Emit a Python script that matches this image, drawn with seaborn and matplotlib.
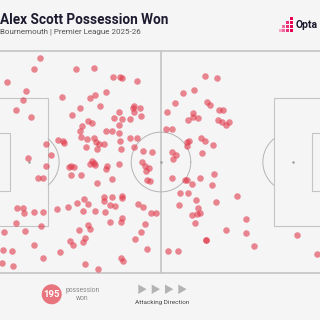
import numpy as np
import pandas as pd
import matplotlib
matplotlib.use("Agg")
import matplotlib.pyplot as plt
from matplotlib.patches import Rectangle, Polygon, Circle
import seaborn as sns

# ---- data (Opta pitch coordinates, 0-100) ----
x_vals = [14.6, 12.9, 25.1, 30.4, 5.0, 10.4, 9.7, 21.1, 33.8, 30.6, 29.2, 32.1, 7.5, 12.0, 24.1,
          26.4, 28.7, 29.8, 26.8, 26.2, 33.9, 26.5, 28.3, 30.3, 31.1, 32.0, 33.2, 28.2, 31.2, 19.9,
          21.3, 21.6, 16.3, 17.8, 11.2, 29.7, 29.3, 30.3, 30.7, 34.3, 36.0, 37.9, 38.7, 42.9, 42.2,
          41.8, 43.9, 37.8, 42.2, 44.2, 36.3, 38.6, 40.8, 37.7, 35.7, 37.8, 40.9, 43.1, 37.9, 42.1,
          38.2, 44.8, 47.4, 44.5, 37.7, 63.0, 66.5, 56.4, 59.6, 54.0, 63.5, 64.3, 51.8, 59.4, 57.8,
          59.3, 60.7, 67.0, 68.0, 66.7, 67.8, 69.8, 69.1, 51.5, 53.2, 57.5, 58.3, 57.5, 61.6, 62.9,
          65.1, 62.1, 53.1, 54.3, 53.4, 16.4, 23.0, 23.8, 24.5, 33.9, 14.0, 15.4, 23.8, 26.5, 31.2,
          27.5, 25.5, 28.7, 33.3, 33.2, 7.9, 9.6, 10.0, 13.0, 15.6, 19.6, 22.7, 27.3, 30.6, 33.5,
          7.5, 14.9, 10.2, 4.0, 28.7, 29.3, 26.1, 23.4, 24.4, 27.9, 27.3, 12.9, 20.6, 3.8, 6.3,
          15.6, 3.4, 6.6, 27.9, 31.5, 45.4, 46.5, 45.7, 45.8, 46.9, 35.8, 35.8, 38.5, 38.5, 35.2,
          36.6, 43.3, 44.6, 47.0, 48.6, 35.0, 38.5, 38.3, 45.4, 44.2, 42.5, 45.8, 38.2, 39.0, 53.3,
          57.0, 57.7, 59.0, 61.3, 65.5, 64.9, 55.7, 57.9, 60.2, 66.0, 72.1, 55.2, 60.8, 59.0, 60.6,
          61.4, 59.9, 74.9, 68.9, 74.9, 63.2, 63.2, 77.3, 89.9, 95.5, 52.0, 55.1]
y_vals = [97.0, 91.8, 92.0, 92.5, 86.2, 82.0, 78.1, 79.3, 81.5, 80.1, 78.7, 75.1, 73.2, 70.3, 71.2,
          74.2, 68.3, 67.5, 66.1, 63.9, 64.1, 61.4, 60.2, 60.7, 59.2, 58.1, 58.0, 56.9, 55.9, 59.7,
          59.5, 58.6, 58.0, 53.3, 51.9, 50.4, 49.2, 49.4, 48.7, 48.4, 88.4, 88.4, 87.8, 86.5, 75.4,
          74.3, 74.5, 72.5, 72.3, 70.7, 69.9, 69.4, 69.4, 66.7, 64.0, 63.2, 60.7, 61.0, 59.5, 56.6,
          55.9, 55.1, 54.3, 50.0, 49.0, 88.9, 88.0, 81.1, 82.4, 76.7, 76.9, 75.9, 72.4, 72.2, 68.8,
          70.1, 70.0, 73.6, 73.6, 68.8, 68.0, 67.9, 66.6, 64.8, 65.0, 59.1, 59.4, 57.2, 61.0, 59.6,
          57.7, 54.2, 54.3, 53.0, 51.4, 48.3, 47.9, 48.0, 47.9, 46.7, 42.8, 42.8, 44.0, 44.3, 40.7,
          33.3, 31.4, 30.9, 34.2, 32.3, 29.4, 29.3, 26.9, 27.6, 27.5, 28.7, 29.9, 28.1, 27.8, 27.5,
          22.4, 21.0, 19.1, 18.5, 21.6, 20.0, 19.5, 14.4, 12.6, 15.6, 13.8, 12.6, 9.6, 10.4, 9.9,
          6.9, 4.6, 3.0, 4.2, 1.9, 48.3, 47.2, 45.8, 41.9, 41.4, 42.2, 34.3, 34.8, 33.8, 30.5,
          30.1, 30.9, 29.7, 27.2, 27.0, 23.1, 24.6, 22.9, 22.2, 18.5, 15.5, 10.6, 6.9, 5.5, 42.8,
          42.1, 41.7, 40.0, 42.8, 44.6, 39.8, 36.2, 36.2, 32.9, 32.0, 34.7, 30.8, 29.5, 26.3, 26.4,
          26.9, 22.5, 24.2, 19.4, 18.2, 14.8, 14.8, 12.2, 17.0, 8.7, 10.0, 9.9]

title = "Alex Scott Possession Won"
subtitle = "Bournemouth | Premier League 2025-26"
total_label = "195"
stat_label = "possession\nwon"
direction_label = "Attacking Direction"

df = pd.DataFrame({"x": x_vals, "y": y_vals})

BG = "#f5f5f5"
LINE = "#c4c4c4"
DOT = "#e0394a"

sns.set_theme(style="white")
plt.rcParams["font.family"] = ["Roboto", "DejaVu Sans"]

W = H = 320
fig = plt.figure(figsize=(3.2, 3.2), dpi=100, facecolor=BG)

# pitch axes in pixel placement: x -10..332, y 51..273
ax = fig.add_axes([-10 / W, 1 - 273 / H, 342 / W, 222 / H])
ax.set_facecolor(BG)
ax.set_xlim(0, 100)
ax.set_ylim(0, 100)
ax.axis("off")

lw_out = 1.2
lw_in = 0.8
ax.add_patch(Rectangle((0, 0), 100, 100, fill=False, ec=LINE, lw=lw_out, clip_on=False))
ax.plot([50, 50], [0, 100], color=LINE, lw=lw_out, solid_capstyle="butt")
for x0, w in [(0, 17), (83, 17)]:
    ax.add_patch(Rectangle((x0, 21.1), w, 57.8, fill=False, ec=LINE, lw=lw_in))
for x0, w in [(0, 5.8), (94.2, 5.8)]:
    ax.add_patch(Rectangle((x0, 36.8), w, 26.4, fill=False, ec=LINE, lw=lw_in))
rx, ry = 8.71, 13.46
t = np.linspace(0, 2 * np.pi, 300)
ax.plot(50 + rx * np.cos(t), 50 + ry * np.sin(t), color="#b4b4b4", lw=0.7)
lim = np.arccos(5.5 / rx)
t2 = np.linspace(-lim, lim, 100)
ax.plot(11.5 + rx * np.cos(t2), 50 + ry * np.sin(t2), color="#b4b4b4", lw=0.7)
ax.plot(88.5 - rx * np.cos(t2), 50 + ry * np.sin(t2), color="#b4b4b4", lw=0.7)
ax.scatter([11.5, 50, 88.5], [50, 50, 50], s=0.6, color="#999999", zorder=2)

sns.scatterplot(data=df, x="x", y="y", ax=ax, s=22, color=DOT, alpha=0.6,
                linewidth=0, legend=False, zorder=3)
ax.set_xlim(0, 100)
ax.set_ylim(0, 100)

def fy(py):
    return 1 - py / H

# header
fig.text(0 / W, fy(24.3), title, fontsize=9.8, fontweight="bold", color="#1c1a2e", va="baseline", ha="left")
fig.text(0.5 / W, fy(33.6), subtitle, fontsize=5.8, color="#555555", va="baseline", ha="left")

# opta logo
sq = 3.0 / W
cols = ["#f7a8c8", "#ef6aa0", "#e8317a", "#e6004f"]
cells = [(290, 17, 3), (290, 21, 3), (286, 21, 2), (290, 25, 3), (286, 25, 2), (282, 25, 1),
         (290, 29, 3), (286, 29, 2), (282, 29, 1), (279, 29, 0)]
for px, py, ci in cells:
    fig.patches.append(Rectangle((px / W, fy(py + 3)), sq, 3.0 / H, transform=fig.transFigure,
                                 color=cols[ci], lw=0))
fig.text(296 / W, fy(27.5), "Opta", fontsize=7.5, fontweight="bold", color="#1c1a2e", va="baseline", ha="left")

# footer
fig.patches.append(Circle((51.7 / W, fy(294.3)), 10 / W, transform=fig.transFigure, color="#e8747d", lw=0))
fig.text(51.7 / W, fy(294.3), total_label, fontsize=6.8, fontweight="bold", color="white", ha="center", va="center")
fig.text(82.5 / W, fy(294.5), stat_label, fontsize=4.9, color="#8a8a8a", ha="center", va="center", linespacing=1.25)

for cx in [142.3, 155.7, 169.0, 182.3]:
    tri = Polygon([((cx - 4) / W, fy(284.5)), ((cx - 4) / W, fy(294)), ((cx + 4.3) / W, fy(289.2))],
                  closed=True, transform=fig.transFigure, color="#b3b3b3", lw=0)
    fig.patches.append(tri)
fig.text(162 / W, fy(302.5), direction_label, fontsize=4.6, color="#444444", ha="center", va="center")

fig.savefig("out.png", dpi=100, facecolor=BG)
